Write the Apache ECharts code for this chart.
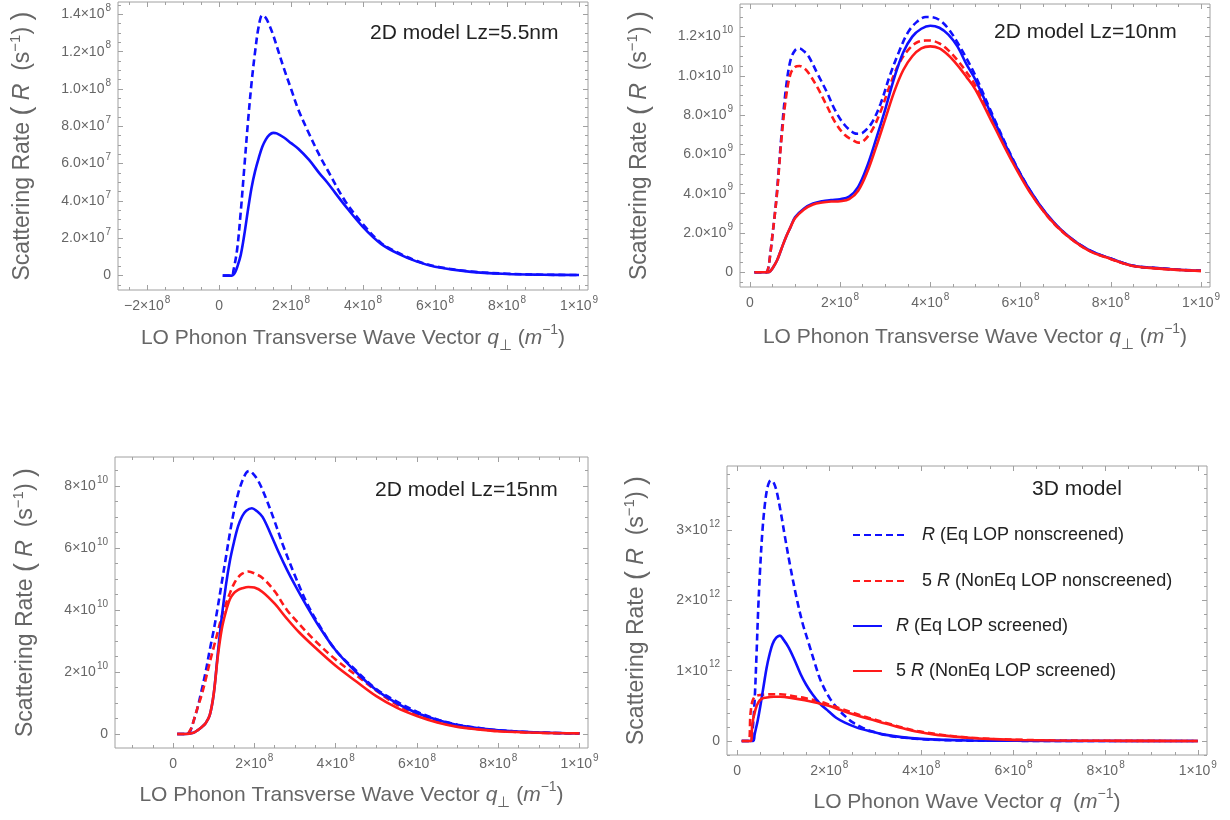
<!DOCTYPE html>
<html><head><meta charset="utf-8">
<script src="https://cdn.jsdelivr.net/npm/echarts@6/dist/echarts.min.js"></script>
<style>html,body{margin:0;padding:0;background:#fff}#c{width:1230px;height:820px}</style>
</head><body><div id="c"></div>
<script>
// ---- Tick labels (x in units of 1e8 m^-1) ----
const xTickValues = [-2, 0, 2, 4, 6, 8, 10];
const xTickLabels = ['−2×10^8', '0', '2×10^8', '4×10^8', '6×10^8', '8×10^8', '1×10^9'];
const p1YTickValues = [0, 2, 4, 6, 8, 10, 12, 14];            // units 1e7 s^-1
const p1YTickLabels = ['0', '2.0×10^7', '4.0×10^7', '6.0×10^7', '8.0×10^7', '1.0×10^8', '1.2×10^8', '1.4×10^8'];
const p2YTickValues = [0, 2, 4, 6, 8, 10, 12];                // units 1e9 s^-1
const p2YTickLabels = ['0', '2.0×10^9', '4.0×10^9', '6.0×10^9', '8.0×10^9', '1.0×10^10', '1.2×10^10'];
const p3YTickValues = [0, 2, 4, 6, 8];                        // units 1e10 s^-1
const p3YTickLabels = ['0', '2×10^10', '4×10^10', '6×10^10', '8×10^10'];
const p4YTickValues = [0, 1, 2, 3];                           // units 1e12 s^-1
const p4YTickLabels = ['0', '1×10^12', '2×10^12', '3×10^12'];

const panelTitles = ['2D model Lz=5.5nm', '2D model Lz=10nm', '2D model Lz=15nm', '3D model'];
const legendNames = ['R (Eq LOP nonscreened)', '5 R (NonEq LOP nonscreened)', 'R (Eq LOP screened)', '5 R (NonEq LOP screened)'];

// ---- Panel 1: 2D Lz=5.5nm  [q (1e8 m^-1), R (1e7 s^-1)] ----
const p1BlueDashed = [[0.1,0],[0.35,0],[0.4,0.3],[0.5,1.4],[0.6,3.4],[0.7,5.8],[0.8,8.2],[0.9,10.3],[1.0,12.0],[1.1,13.35],[1.2,13.95],[1.3,13.8],[1.4,13.4],[1.5,12.9],[1.6,12.3],[1.8,11.1],[2.0,10.0],[2.2,8.9],[2.5,7.6],[2.8,6.4],[3.0,5.7],[3.5,4.0],[4.0,2.75],[4.5,1.75],[5.0,1.2],[5.5,0.78],[6.0,0.5],[7.0,0.22],[8.0,0.1],[9.0,0.05],[10.0,0.03]];
const p1BlueSolid = [[0.1,0],[0.35,0],[0.4,0.05],[0.45,0.2],[0.5,0.45],[0.6,1.1],[0.7,2.2],[0.8,3.5],[0.9,4.7],[1.0,5.6],[1.1,6.3],[1.2,6.9],[1.3,7.3],[1.4,7.55],[1.5,7.65],[1.6,7.62],[1.8,7.4],[2.0,7.1],[2.2,6.8],[2.5,6.2],[2.8,5.45],[3.0,5.0],[3.5,3.75],[4.0,2.6],[4.5,1.7],[5.0,1.15],[5.5,0.75],[6.0,0.48],[7.0,0.2],[8.0,0.09],[9.0,0.05],[10.0,0.03]];

// ---- Panel 2: 2D Lz=10nm  [q (1e8), R (1e9)] ----
const p2BlueDashed = [[0.1,0],[0.35,0],[0.4,0.15],[0.45,0.9],[0.5,1.9],[0.55,2.9],[0.6,4.1],[0.7,7.0],[0.8,9.4],[0.9,10.8],[1.0,11.3],[1.1,11.4],[1.2,11.25],[1.3,11.0],[1.5,10.1],[1.7,9.2],[1.9,8.2],[2.1,7.5],[2.3,7.1],[2.4,7.05],[2.5,7.1],[2.7,7.6],[2.9,8.6],[3.1,10.0],[3.3,11.2],[3.5,12.2],[3.7,12.75],[3.9,13.0],[4.0,13.0],[4.2,12.85],[4.4,12.4],[4.6,11.7],[4.8,10.9],[5.0,10.0],[5.4,7.9],[5.8,5.9],[6.2,4.2],[6.6,2.9],[7.0,1.95],[7.5,1.15],[8.0,0.7],[8.5,0.33],[9.0,0.22],[9.5,0.13],[10.0,0.08]];
const p2RedDashed = [[0.1,0],[0.35,0],[0.4,0.15],[0.45,0.9],[0.5,1.9],[0.55,2.9],[0.6,4.0],[0.7,6.8],[0.8,8.9],[0.9,10.1],[1.0,10.45],[1.1,10.5],[1.2,10.4],[1.3,10.15],[1.5,9.4],[1.7,8.5],[1.9,7.6],[2.1,7.0],[2.3,6.7],[2.4,6.6],[2.5,6.65],[2.7,7.2],[2.9,8.2],[3.1,9.5],[3.3,10.6],[3.5,11.3],[3.7,11.7],[3.9,11.8],[4.0,11.8],[4.2,11.65],[4.4,11.3],[4.6,10.8],[4.8,10.2],[5.0,9.5],[5.4,7.6],[5.8,5.8],[6.2,4.15],[6.6,2.85],[7.0,1.92],[7.5,1.12],[8.0,0.68],[8.5,0.32],[9.0,0.2],[9.5,0.12],[10.0,0.07]];
const p2BlueSolid = [[0.1,0],[0.4,0],[0.45,0.05],[0.5,0.2],[0.6,0.6],[0.7,1.2],[0.8,1.8],[0.9,2.3],[1.0,2.8],[1.2,3.25],[1.4,3.5],[1.6,3.62],[1.8,3.68],[2.0,3.72],[2.2,3.85],[2.4,4.35],[2.6,5.4],[2.8,6.8],[3.0,8.3],[3.2,9.9],[3.4,11.2],[3.6,12.0],[3.8,12.4],[4.0,12.55],[4.2,12.45],[4.4,12.1],[4.6,11.5],[4.8,10.6],[5.0,9.8],[5.4,7.8],[5.8,5.85],[6.2,4.2],[6.6,2.9],[7.0,1.95],[7.5,1.15],[8.0,0.7],[8.5,0.33],[9.0,0.22],[9.5,0.13],[10.0,0.08]];
const p2RedSolid = [[0.1,0],[0.4,0],[0.45,0.05],[0.5,0.2],[0.6,0.6],[0.7,1.2],[0.8,1.8],[0.9,2.3],[1.0,2.75],[1.2,3.2],[1.4,3.45],[1.6,3.55],[1.8,3.6],[2.0,3.62],[2.2,3.72],[2.4,4.15],[2.6,5.1],[2.8,6.4],[3.0,7.8],[3.2,9.2],[3.4,10.3],[3.6,11.0],[3.8,11.4],[4.0,11.5],[4.2,11.4],[4.4,11.05],[4.6,10.55],[4.8,9.95],[5.0,9.3],[5.4,7.5],[5.8,5.7],[6.2,4.1],[6.6,2.85],[7.0,1.92],[7.5,1.12],[8.0,0.68],[8.5,0.32],[9.0,0.2],[9.5,0.12],[10.0,0.07]];

// ---- Panel 3: 2D Lz=15nm  [q (1e8), R (1e10)] ----
const p3BlueDashed = [[0.1,0],[0.3,0],[0.4,0.05],[0.45,0.19],[0.5,0.4],[0.6,0.84],[0.7,1.4],[0.8,2.0],[0.9,2.7],[1.0,3.35],[1.1,4.1],[1.2,4.9],[1.3,5.7],[1.4,6.5],[1.5,7.2],[1.6,7.75],[1.7,8.15],[1.8,8.42],[1.87,8.48],[1.95,8.42],[2.1,8.15],[2.3,7.55],[2.5,6.85],[2.7,6.1],[3.0,5.1],[3.3,4.2],[3.6,3.5],[4.0,2.7],[4.5,2.05],[5.0,1.45],[5.5,1.05],[6.0,0.72],[6.5,0.47],[7.0,0.3],[7.5,0.2],[8.0,0.12],[9.0,0.05],[10.0,0.02]];
const p3RedDashed = [[0.1,0],[0.35,0],[0.4,0.08],[0.45,0.2],[0.5,0.4],[0.6,0.84],[0.7,1.25],[0.8,1.75],[0.9,2.3],[1.0,2.8],[1.1,3.3],[1.2,3.8],[1.3,4.2],[1.4,4.55],[1.5,4.85],[1.6,5.05],[1.7,5.17],[1.85,5.24],[2.0,5.18],[2.2,5.03],[2.5,4.6],[2.8,4.0],[3.1,3.55],[3.5,3.0],[4.0,2.4],[4.5,1.9],[5.0,1.4],[5.5,0.95],[6.0,0.64],[6.5,0.4],[7.0,0.25],[7.5,0.16],[8.0,0.1],[9.0,0.04],[10.0,0.02]];
const p3BlueSolid = [[0.1,0],[0.3,0],[0.5,0.04],[0.6,0.12],[0.7,0.22],[0.8,0.35],[0.9,0.6],[1.0,1.3],[1.1,2.6],[1.2,3.8],[1.3,4.8],[1.4,5.6],[1.5,6.2],[1.6,6.7],[1.7,7.02],[1.8,7.2],[1.94,7.28],[2.05,7.2],[2.2,7.0],[2.4,6.45],[2.6,5.85],[2.8,5.3],[3.0,4.8],[3.3,4.1],[3.6,3.45],[4.0,2.7],[4.5,2.0],[5.0,1.42],[5.5,1.0],[6.0,0.68],[6.5,0.46],[7.0,0.29],[7.5,0.19],[8.0,0.12],[9.0,0.05],[10.0,0.02]];
const p3RedSolid = [[0.1,0],[0.3,0],[0.5,0.04],[0.6,0.12],[0.7,0.22],[0.8,0.35],[0.9,0.6],[1.0,1.3],[1.1,2.5],[1.2,3.4],[1.3,3.95],[1.4,4.35],[1.5,4.55],[1.6,4.65],[1.7,4.7],[1.85,4.74],[2.0,4.72],[2.2,4.58],[2.5,4.2],[2.8,3.72],[3.1,3.28],[3.5,2.78],[4.0,2.2],[4.5,1.7],[5.0,1.22],[5.5,0.85],[6.0,0.58],[6.5,0.37],[7.0,0.23],[7.5,0.15],[8.0,0.09],[9.0,0.04],[10.0,0.02]];

// ---- Panel 4: 3D model  [q (1e8), R (1e12)] ----
const p4BlueDashed = [[0.1,0],[0.3,0],[0.33,0.1],[0.38,0.57],[0.42,1.2],[0.46,1.9],[0.5,2.45],[0.55,2.99],[0.6,3.35],[0.65,3.58],[0.7,3.69],[0.74,3.71],[0.8,3.67],[0.86,3.55],[0.95,3.25],[1.03,2.94],[1.15,2.5],[1.29,2.04],[1.42,1.68],[1.56,1.38],[1.7,1.08],[1.82,0.85],[2.0,0.62],[2.17,0.47],[2.35,0.35],[2.52,0.26],[2.75,0.18],[2.96,0.13],[3.25,0.08],[3.57,0.05],[4.0,0.025],[4.5,0.012],[5.0,0.005],[6.0,0.002],[8.0,0],[10.0,0]];
const p4RedDashed = [[0.1,0],[0.25,0],[0.29,0.38],[0.33,0.56],[0.38,0.63],[0.42,0.645],[0.5,0.655],[0.6,0.66],[0.8,0.665],[0.94,0.665],[1.2,0.64],[1.47,0.61],[1.75,0.57],[1.99,0.52],[2.25,0.46],[2.52,0.4],[2.85,0.33],[3.22,0.26],[3.6,0.19],[3.92,0.14],[4.3,0.1],[4.71,0.066],[5.1,0.045],[5.58,0.028],[6.2,0.015],[6.9,0.007],[8.0,0.002],[10.0,0]];
const p4BlueSolid = [[0.1,0],[0.35,0],[0.38,0.09],[0.45,0.3],[0.51,0.52],[0.58,0.8],[0.64,1.04],[0.7,1.22],[0.77,1.38],[0.85,1.47],[0.93,1.5],[1.0,1.45],[1.12,1.33],[1.25,1.15],[1.38,0.95],[1.5,0.8],[1.64,0.66],[1.8,0.53],[1.99,0.42],[2.15,0.33],[2.34,0.26],[2.6,0.19],[2.87,0.14],[3.2,0.09],[3.57,0.055],[4.0,0.03],[4.5,0.015],[5.0,0.007],[6.0,0.002],[8.0,0],[10.0,0]];
const p4RedSolid = [[0.1,0],[0.3,0],[0.33,0.24],[0.4,0.45],[0.46,0.55],[0.53,0.6],[0.6,0.615],[0.8,0.63],[0.94,0.63],[1.2,0.61],[1.47,0.58],[1.75,0.54],[1.99,0.5],[2.25,0.44],[2.52,0.38],[2.85,0.315],[3.22,0.25],[3.6,0.18],[3.92,0.13],[4.3,0.09],[4.71,0.062],[5.1,0.042],[5.58,0.026],[6.2,0.014],[6.9,0.006],[8.0,0.002],[10.0,0]];

// ---------------------------------------------------------------
const FONT = '"Liberation Sans", Arial, Helvetica, sans-serif';
const GREY = '#666';
const FRAME = '#a0a0a0';
const BLUE = '#1010ff';
const RED = '#ff1a1a';

function richLabel(s) {
  if (s.indexOf('^') >= 0) { const p = s.split('^'); return '{m|' + p[0] + '}{e|' + p[1] + '}'; }
  return '{m|' + s + '}';
}
function makeFormatter(values, labels) {
  return function (v) {
    for (let i = 0; i < values.length; i++) if (Math.abs(v - values[i]) < 1e-6) return richLabel(labels[i]);
    return '';
  };
}
const tickRich = {
  m: { fontSize: 14, color: GREY, fontFamily: FONT, lineHeight: 22 },
  e: { fontSize: 10, color: GREY, fontFamily: FONT, lineHeight: 12, verticalAlign: 'top', padding: [0, 0, 0, 1] }
};
function minorTicks(min, max, step, majors) {
  const out = [];
  const start = Math.ceil(min / step - 1e-9);
  for (let k = start; k * step <= max + 1e-9; k++) {
    const v = +(k * step).toFixed(6);
    if (!majors.some(m => Math.abs(m - v) < 1e-6)) out.push(v);
  }
  return out;
}
function nameStyle(size) {
  return { fontSize: size, color: GREY, fontFamily: FONT, lineHeight: 30, rich: {
    i: { fontStyle: 'italic', fontSize: size, color: GREY, fontFamily: FONT },
    p: { fontSize: size + 4, color: GREY, fontFamily: FONT },
    sup: { fontSize: Math.round(size * 0.65), color: GREY, fontFamily: FONT, verticalAlign: 'top', lineHeight: 16 },
    sub: { fontSize: Math.round(size * 0.7), color: GREY, fontFamily: FONT, verticalAlign: 'bottom', lineHeight: 14 }
  } };
}

const panels = [
  { grid: { left: 118, top: 2, width: 470, height: 288 }, x: [-2.81, 10.25], y: [-0.77, 14.66],
    yVals: p1YTickValues, yLabs: p1YTickLabels, yMinorStep: 0.5, xName: 'transverse', yGap: 80, xGap: 33,
    series: [['p1a', p1BlueDashed, BLUE, true], ['p1b', p1BlueSolid, BLUE, false]] },
  { grid: { left: 740, top: 4, width: 470, height: 283 }, x: [-0.22, 10.2], y: [-0.75, 13.66],
    yVals: p2YTickValues, yLabs: p2YTickLabels, yMinorStep: 0.5, xName: 'transverse', yGap: 85, xGap: 35,
    series: [['p2a', p2BlueDashed, BLUE, true], ['p2b', p2RedDashed, RED, true], ['p2c', p2BlueSolid, BLUE, false], ['p2d', p2RedSolid, RED, false]] },
  { grid: { left: 115, top: 457, width: 473, height: 291 }, x: [-1.43, 10.21], y: [-0.45, 8.93],
    yVals: p3YTickValues, yLabs: p3YTickLabels, yMinorStep: 0.5, xName: 'transverse', yGap: 74, xGap: 32,
    series: [['p3a', p3BlueDashed, BLUE, true], ['p3b', p3RedDashed, RED, true], ['p3c', p3BlueSolid, BLUE, false], ['p3d', p3RedSolid, RED, false]] },
  { grid: { left: 727, top: 466, width: 480, height: 289 }, x: [-0.219, 10.2], y: [-0.2, 3.915],
    yVals: p4YTickValues, yLabs: p4YTickLabels, yMinorStep: 0.2, xName: 'plain', yGap: 75, xGap: 32,
    series: [[legendNames[0], p4BlueDashed, BLUE, true], [legendNames[1], p4RedDashed, RED, true], [legendNames[2], p4BlueSolid, BLUE, false], [legendNames[3], p4RedSolid, RED, false]] }
];

const grids = [], xAxes = [], yAxes = [], series = [];
panels.forEach((p, gi) => {
  grids.push(Object.assign({ show: true, borderColor: FRAME, borderWidth: 1, containLabel: false }, p.grid));
  const xMaj = xTickValues.filter(v => v >= p.x[0] && v <= p.x[1]);
  const xMin = minorTicks(p.x[0], p.x[1], 0.5, xMaj);
  const yMaj = p.yVals;
  const yMin = minorTicks(p.y[0], p.y[1], p.yMinorStep, yMaj);
  const base = { gridIndex: gi, type: 'value', axisLine: { show: false, onZero: false }, splitLine: { show: false }, silent: true };
  const tk = (vals, len) => ({ show: true, inside: true, length: len, customValues: vals, lineStyle: { color: FRAME, width: 1 } });
  const xName = p.xName === 'transverse'
    ? 'LO Phonon Transverse Wave Vector {i|q}{sub|⊥} ({i|m}{sup|−1})'
    : 'LO Phonon Wave Vector {i|q}  ({i|m}{sup|−1})';
  xAxes.push(Object.assign({}, base, { position: 'bottom', min: p.x[0], max: p.x[1], axisTick: tk(xMaj, 5),
    axisLabel: { customValues: xMaj, formatter: makeFormatter(xTickValues, xTickLabels), rich: tickRich, margin: 5 },
    name: xName, nameLocation: 'middle', nameGap: p.xGap, nameTextStyle: nameStyle(21) }));
  xAxes.push(Object.assign({}, base, { position: 'bottom', min: p.x[0], max: p.x[1], axisTick: tk(xMin, 3), axisLabel: { show: false } }));
  xAxes.push(Object.assign({}, base, { position: 'top', min: p.x[0], max: p.x[1], axisTick: tk(xMaj, 5), axisLabel: { show: false } }));
  xAxes.push(Object.assign({}, base, { position: 'top', min: p.x[0], max: p.x[1], axisTick: tk(xMin, 3), axisLabel: { show: false } }));
  yAxes.push(Object.assign({}, base, { position: 'left', min: p.y[0], max: p.y[1], axisTick: tk(yMaj, 5),
    axisLabel: { customValues: yMaj, formatter: makeFormatter(p.yVals, p.yLabs), rich: tickRich, margin: 7 },
    name: 'Scattering Rate {p|(} {i|R}  (s{sup|−1}) {p|)}', nameLocation: 'middle', nameGap: p.yGap, nameTextStyle: nameStyle(23) }));
  yAxes.push(Object.assign({}, base, { position: 'left', min: p.y[0], max: p.y[1], axisTick: tk(yMin, 3), axisLabel: { show: false } }));
  yAxes.push(Object.assign({}, base, { position: 'right', min: p.y[0], max: p.y[1], axisTick: tk(yMaj, 5), axisLabel: { show: false } }));
  yAxes.push(Object.assign({}, base, { position: 'right', min: p.y[0], max: p.y[1], axisTick: tk(yMin, 3), axisLabel: { show: false } }));
  p.series.forEach(([name, data, color, dashed], si) => {
    series.push({ type: 'line', name: name, data: data, xAxisIndex: gi * 4, yAxisIndex: gi * 4,
      symbol: 'none', showSymbol: false, smooth: 0.35, silent: true, z: 2 + si,
      lineStyle: { color: color, width: 2.6, type: dashed ? [7, 4] : 'solid' }, itemStyle: { color: color } });
  });
});

const titleStyle = { fontSize: 21, fontWeight: 'normal', color: '#222', fontFamily: FONT };
const titles = [
  { text: panelTitles[0], left: 370, top: 23 },
  { text: panelTitles[1], left: 994, top: 22 },
  { text: panelTitles[2], left: 375, top: 480 },
  { text: panelTitles[3], left: 1032, top: 479 }
].map(t => Object.assign({ padding: 0, textStyle: titleStyle }, t));

const legendText = { fontSize: 18, color: '#222', fontFamily: FONT, lineHeight: 20, padding: [0, 0, 0, 9],
  rich: { i: { fontStyle: 'italic', fontSize: 18, color: '#222', fontFamily: FONT, lineHeight: 20 } } };
const legendFmt = n => n.replace('R (', '{i|R} (');
const legendItemStyle = { color: 'rgba(0,0,0,0)', borderWidth: 0, opacity: 0 };
const chart = echarts.init(document.getElementById('c'), null, { renderer: 'canvas' });
chart.setOption({
  animation: false,
  backgroundColor: '#fff',
  title: titles,
  grid: grids,
  xAxis: xAxes,
  yAxis: yAxes,
  legend: [
    { data: [legendNames[0], legendNames[1]], orient: 'vertical', left: 852, top: 525, itemWidth: 55, itemHeight: 14,
      itemGap: 26, padding: 0, selectedMode: false, formatter: legendFmt, textStyle: legendText, itemStyle: legendItemStyle },
    { data: [legendNames[2], legendNames[3]], orient: 'vertical', left: 852, top: 616, itemWidth: 29, itemHeight: 14,
      itemGap: 25, padding: 0, selectedMode: false, formatter: legendFmt, textStyle: legendText, itemStyle: legendItemStyle }
  ],
  series: series
});
</script></body></html>
